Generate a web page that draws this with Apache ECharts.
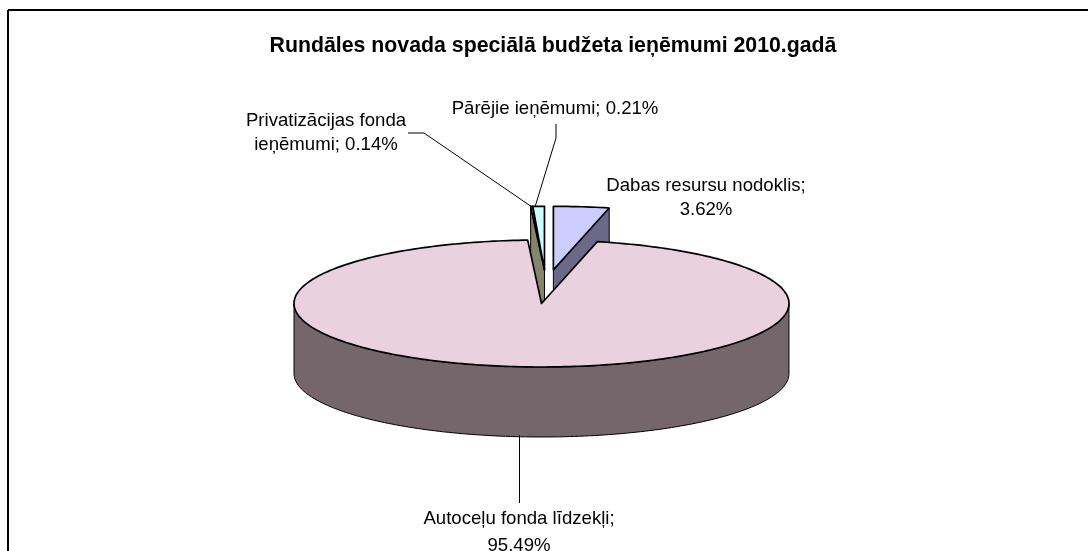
<!DOCTYPE html>
<html>
<head>
<meta charset="utf-8">
<style>
  html, body { margin: 0; padding: 0; background: #fff; }
  #chart { width: 1088px; height: 551px; }
</style>
<script src="https://cdn.jsdelivr.net/npm/echarts@6/dist/echarts.min.js"></script>
</head>
<body>
<div id="chart"></div>
<script>
var titleText = "Rundāles novada speciālā budžeta ieņēmumi 2010.gadā";
var names = ["Dabas resursu nodoklis", "Autoceļu fonda līdzekļi", "Privatizācijas fonda ieņēmumi", "Pārējie ieņēmumi"];
var values = [3.62, 95.49, 0.14, 0.21];
var faceColors = ["#ccccff", "#e9d1de", "#ffffcc", "#ccffff"];
var sideColors = ["#6a6a88", "#75666c", "#85856c", "#6a8888"];

// the grid is the pie's unit circle, squashed by the axes into the ellipse
var GRID = { left: 294, top: 240, width: 495, height: 127 };
var DEPTH = 70;
// how far each slice is pulled out of the pie, in unit circle terms
var offsets = [[0.048, 0.53], [0, 0], [0.012, 0.53], [0.012, 0.53]];

// the printed percents leave 0.54% over, the last slice closes the circle
var angles = [];
var total = 0;
for (var i = 0; i < values.length; i++) {
  var start = total / 100 * Math.PI * 2;
  total += values[i];
  var end = i === values.length - 1 ? Math.PI * 2 : total / 100 * Math.PI * 2;
  angles.push([start, end]);
}

function renderSlice(params, api) {
  var i = params.dataIndex;
  var off = offsets[i];
  var a = angles[i];
  var z = i === 1 ? 10 : i;
  var center = api.coord([off[0], off[1]]);
  var rim = [];
  var steps = Math.max(2, Math.ceil((a[1] - a[0]) / 0.02));
  for (var s = 0; s <= steps; s++) {
    var t = a[0] + (a[1] - a[0]) * s / steps;
    rim.push(api.coord([off[0] + Math.sin(t), off[1] + Math.cos(t)]));
  }
  var children = [];
  var edge = { stroke: "#000", lineWidth: 1.7, lineJoin: "round" };
  var thin = { stroke: "#000", lineWidth: 1, lineJoin: "round" };

  // outer wall, front half only
  var front = rim.filter(function (p) { return p[1] >= center[1]; });
  if (front.length > 1) {
    var wall = front.slice();
    for (var w = front.length - 1; w >= 0; w--) {
      wall.push([front[w][0], front[w][1] + DEPTH]);
    }
    children.push({ type: "polygon", z2: z, shape: { points: wall },
      style: Object.assign({ fill: sideColors[i] }, thin) });
  }
  // the cut face that looks at the viewer, only on the pulled out slices
  var cut = i === 0 ? rim[rim.length - 1] : i === 2 ? rim[0] : null;
  if (cut) {
    children.push({ type: "polygon", z2: z, shape: { points: [
      center, cut, [cut[0], cut[1] + DEPTH], [center[0], center[1] + DEPTH]
    ] }, style: Object.assign({ fill: sideColors[i] }, thin) });
  }
  // top face
  children.push({ type: "polygon", z2: z + 1, shape: { points: [center].concat(rim) },
    style: Object.assign({ fill: faceColors[i] }, edge) });
  return { type: "group", children: children };
}

var labelStyle = { fontFamily: "Liberation Sans", fontSize: 18.6, fill: "#000", textAlign: "center", textVerticalAlign: "middle" };

function label(text, x, y) {
  return { type: "text", x: x, y: y, style: Object.assign({ text: text }, labelStyle), z: 20 };
}

function leader(points, width) {
  return { type: "polyline", shape: { points: points }, style: { stroke: "#000", lineWidth: width || 1, fill: null }, z: 20 };
}

var chart = echarts.init(document.getElementById("chart"), null, { renderer: "canvas" });
chart.setOption({
  backgroundColor: "#fff",
  animation: false,
  title: {
    text: titleText,
    left: 548,
    top: 31,
    textAlign: "center",
    textStyle: { fontFamily: "Liberation Sans", fontSize: 21.3, fontWeight: "bold", color: "#000" }
  },
  grid: GRID,
  xAxis: { type: "value", min: -1, max: 1, show: false },
  yAxis: { type: "value", min: -1, max: 1, show: false },
  series: [{
    type: "custom",
    coordinateSystem: "cartesian2d",
    clip: false,
    silent: true,
    encode: { x: 0, y: 1 },
    data: values.map(function (v) { return [0, 0, v]; }),
    renderItem: renderSlice
  }],
  graphic: [
    leader([[8, 10], [1088, 10]], 2),
    leader([[8, 10], [8, 551]], 2),
    leader([[408, 133], [424, 133], [532, 207]]),
    leader([[556, 124], [556, 138], [535, 207]]),
    leader([[519.5, 435], [519.5, 503]]),
    label(names[3] + "; " + values[3].toFixed(2) + "%", 555, 109),
    label("Privatizācijas fonda", 326, 121),
    label("ieņēmumi; " + values[2].toFixed(2) + "%", 326, 145),
    label(names[0] + ";", 706, 186),
    label(values[0].toFixed(2) + "%", 706, 210),
    label(names[1] + ";", 519, 519),
    label(values[1].toFixed(2) + "%", 519, 546)
  ]
});
</script>
</body>
</html>
